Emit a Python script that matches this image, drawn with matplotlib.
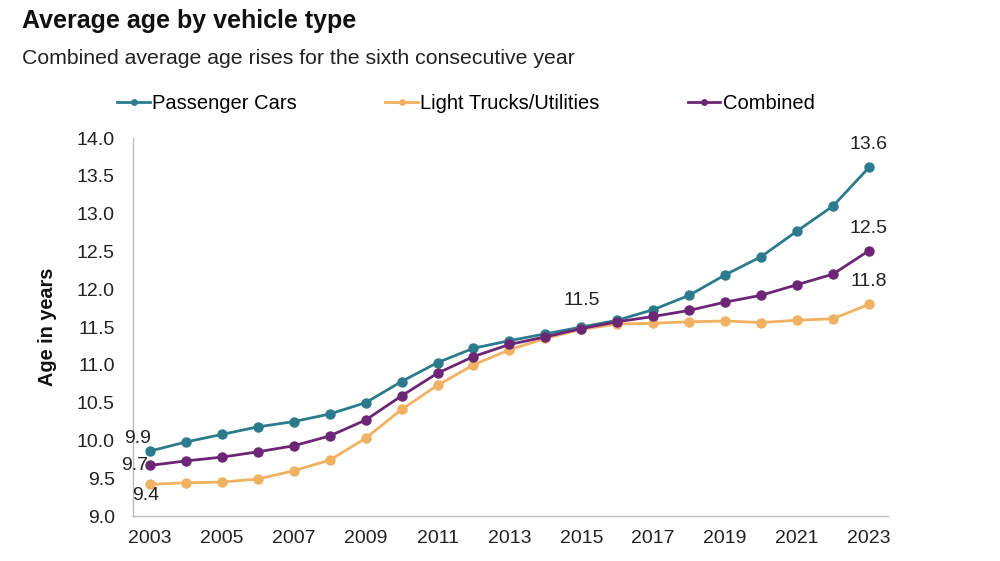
import matplotlib
matplotlib.use("Agg")
import matplotlib.pyplot as plt

plt.rcParams['font.family'] = ['Liberation Sans', 'DejaVu Sans']

years = list(range(2003, 2024))
passenger_cars = [9.86, 9.98, 10.08, 10.18, 10.25, 10.35, 10.50, 10.78, 11.03, 11.22,
                  11.32, 11.41, 11.50, 11.59, 11.73, 11.92, 12.19, 12.43, 12.77, 13.10, 13.61]
light_trucks = [9.42, 9.44, 9.45, 9.49, 9.60, 9.74, 10.03, 10.41, 10.73, 11.00,
                11.20, 11.35, 11.47, 11.54, 11.55, 11.57, 11.58, 11.56, 11.59, 11.61, 11.80]
combined = [9.67, 9.73, 9.78, 9.85, 9.93, 10.06, 10.27, 10.59, 10.89, 11.11,
            11.27, 11.37, 11.48, 11.57, 11.64, 11.72, 11.83, 11.92, 12.06, 12.20, 12.51]
series_names = ["Passenger Cars", "Light Trucks/Utilities", "Combined"]
colors = ["#2c7b8c", "#f1b162", "#6d2676"]
xtick_years = list(range(2003, 2024, 2))
yticks = [9.0, 9.5, 10.0, 10.5, 11.0, 11.5, 12.0, 12.5, 13.0, 13.5, 14.0]

fig = plt.figure(figsize=(10, 5.61), dpi=100)
ax = fig.add_axes([0.133, 0.080, 0.755, 0.674])

handles = []
for vals, name, c in zip([passenger_cars, light_trucks, combined], series_names, colors):
    h, = ax.plot(years, vals, color=c, lw=2, marker='o', ms=6.5, label=name)
    handles.append(h)

ax.set_xlim(2002.53, 2023.53)
ax.set_ylim(9.0, 14.0)
ax.set_xticks(xtick_years)
ax.set_yticks(yticks)
ax.set_yticklabels([f"{v:.1f}" for v in yticks])
ax.tick_params(axis='both', length=0, labelsize=14, colors='#222222')
ax.tick_params(axis='y', pad=13)
ax.tick_params(axis='x', pad=10)
for s in ['top', 'right']:
    ax.spines[s].set_visible(False)
for s in ['left', 'bottom']:
    ax.spines[s].set_color('#bbbbbb')
    ax.spines[s].set_linewidth(1)
ax.set_ylabel("Age in years", fontsize=14.3, fontweight='bold', color='#111111', labelpad=14)

lab_kw = dict(fontsize=14, color='#222222', ha='center', va='center', textcoords='offset points')
ax.annotate(f"{passenger_cars[0]:.1f}", (years[0], passenger_cars[0]), xytext=(-8.6, 8.8), **lab_kw)
ax.annotate(f"{combined[0]:.1f}", (years[0], combined[0]), xytext=(-11, 0), **lab_kw)
ax.annotate(f"{light_trucks[0]:.1f}", (years[0], light_trucks[0]), xytext=(-3, -8), **lab_kw)
ax.annotate(f"{combined[12]:.1f}", (years[12], combined[12]), xytext=(0, 20), **lab_kw)
for vals in [passenger_cars, combined, light_trucks]:
    ax.annotate(f"{vals[-1]:.1f}", (years[-1], vals[-1]), xytext=(0, 16.2), **lab_kw)

fig.legend(handles=handles, labels=series_names, loc='center', bbox_to_anchor=(0.466, 0.815),
           ncol=3, frameon=False, fontsize=14.5, handlelength=1.6, handletextpad=0.12,
           columnspacing=4.4, markerscale=0.6)

fig.text(0.022, 0.962, "Average age by vehicle type", fontsize=18, fontweight='bold',
         color='#111111', va='center', ha='left')
fig.text(0.022, 0.895, "Combined average age rises for the sixth consecutive year", fontsize=15.3,
         color='#222222', va='center', ha='left')

fig.savefig("out.png", dpi=100)
